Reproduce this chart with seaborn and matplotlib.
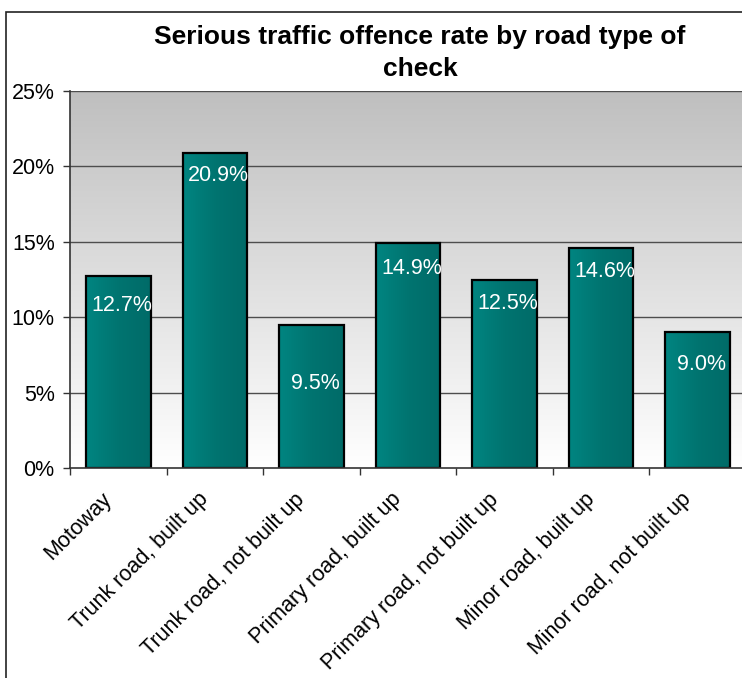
import numpy as np
import pandas as pd
import matplotlib
matplotlib.use("Agg")
import matplotlib.pyplot as plt
import matplotlib.colors as mcolors
import matplotlib.transforms as mtransforms
from matplotlib.patches import Rectangle
import seaborn as sns

categories = ["Motoway", "Trunk road, built up", "Trunk road, not built up",
              "Primary road, built up", "Primary road, not built up",
              "Minor road, built up", "Minor road, not built up"]
rates = [12.7, 20.9, 9.5, 14.9, 12.5, 14.6, 9.0]
value_labels = ["12.7%", "20.9%", "9.5%", "14.9%", "12.5%", "14.6%", "9.0%"]
y_ticks = [0, 5, 10, 15, 20, 25]
y_tick_labels = ["0%", "5%", "10%", "15%", "20%", "25%"]
title = "Serious traffic offence rate by road type of\ncheck"

sns.set_style("white")
plt.rcParams['font.family'] = ['Liberation Sans', 'DejaVu Sans']
plt.rcParams['text.color'] = 'black'
plt.rcParams['xtick.color'] = 'black'
plt.rcParams['ytick.color'] = 'black'

df = pd.DataFrame({"road": categories, "rate": rates})

fig = plt.figure(figsize=(7.42, 6.78), dpi=100)
ax = fig.add_axes([70/742, 1-468/678, 676/742, (468-91)/678])

sns.barplot(data=df, x="road", y="rate", order=categories, width=0.67,
            color="#007a76", edgecolor="black", linewidth=1.6, ax=ax, zorder=3,
            saturation=1)

n = len(categories)
ax.set_xlim(-0.5, n - 0.5)
ax.set_ylim(0, 25)

# background gradient
bg = np.linspace(0, 1, 256).reshape(-1, 1)
bg_cmap = mcolors.LinearSegmentedColormap.from_list("bg", ["#ffffff", "#bfbfbf"])
ax.imshow(bg, cmap=bg_cmap, aspect="auto", origin="lower",
          extent=[-0.5, n - 0.5, 0, 25], zorder=0)

# bar gradients
bar_cmap = mcolors.LinearSegmentedColormap.from_list("bar", ["#008581", "#007470", "#006b68"])
grad = np.linspace(0, 1, 256).reshape(1, -1)
for p in ax.patches:
    x0, y0 = p.get_x(), p.get_y()
    w, h = p.get_width(), p.get_height()
    im = ax.imshow(grad, cmap=bar_cmap, aspect="auto",
                   extent=[x0, x0 + w, y0, y0 + h], zorder=2.5)
    im.set_clip_path(p)
    p.set_facecolor("none")

ax.set_xlim(-0.5, n - 0.5)
ax.set_ylim(0, 25)

# gridlines
for yv in y_ticks[1:]:
    ax.axhline(yv, color="#4d4d4d", linewidth=1.0, zorder=1)

# value labels
offsets = [21, 16, 42, 18, 17.5, 17, 23]
for i, (v, lab) in enumerate(zip(rates, value_labels)):
    ax.annotate(lab, (i, v), xytext=(2.5, -offsets[i]), textcoords="offset points",
                ha="center", va="center", color="white", fontsize=15.5, zorder=5)

ax.set_yticks(y_ticks)
ax.set_yticklabels(y_tick_labels, fontsize=15.5)
ax.set_xticks(range(n))
ax.set_xticklabels(categories, rotation=45, ha="right", rotation_mode="anchor", fontsize=15.5)
ax.tick_params(axis="x", which="major", length=0, pad=15)
shift = mtransforms.ScaledTranslation(-17/100, 0, fig.dpi_scale_trans)
for lbl in ax.get_xticklabels():
    lbl.set_transform(lbl.get_transform() + shift)
ax.set_xticks(np.arange(-0.5, n - 0.4, 1), minor=True)
ax.tick_params(axis="x", which="minor", length=5, width=1, color="#333333", direction="out", bottom=True)
ax.tick_params(axis="y", length=5, width=1, color="#333333", direction="out", left=True, pad=6)
ax.set_xlabel("")
ax.set_ylabel("")

for s in ["top", "right"]:
    ax.spines[s].set_visible(False)
for s in ["left", "bottom"]:
    ax.spines[s].set_color("#333333")
    ax.spines[s].set_linewidth(1.2)
    ax.spines[s].set_zorder(6)

fig.text(420/742, 1 - 53/678, title, ha="center", va="center", fontsize=19,
         fontweight="bold", linespacing=1.4)

# outer chart border
fig.add_artist(Rectangle((6/742, -0.1), 1.2, 1 - 12/678 + 0.1, transform=fig.transFigure,
                         fill=False, edgecolor="#222222", linewidth=1.2))

fig.savefig("out.png", dpi=100)
